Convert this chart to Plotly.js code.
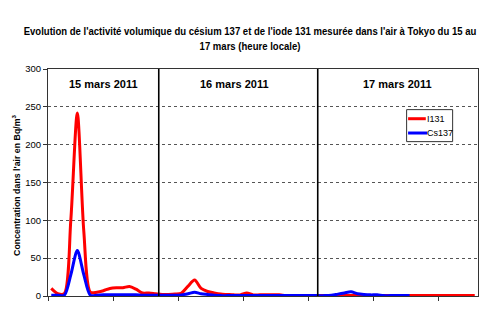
<!DOCTYPE html>
<html><head><meta charset="utf-8">
<script src="https://cdn.plot.ly/plotly-3.0.1.min.js"></script>
<style>html,body{margin:0;padding:0;background:#fff}#chart{width:500px;height:311px}</style>
</head><body><div id="chart"></div>
<script>
// category index (66 sampling slots, 15 -> 17 mars)
const slots = Array.from({length: 66}, (_, i) => i);
const i131 = [10,3,3,100,242,85,5,5,7,10,11,11,12.5,9,4,4,3,2,2,2.5,4,13,21,10,6,4,2.5,2,1.5,1.5,4,1.5,1.5,1.5,1.5,1.5,0.5,0.5,0.5,0.5,0.5,0.5,0.5,0.5,0.5,0.5,0.5,0.5,0.5,0.5,0.5,0.5,0.5,0.5,0.5,0.5,0.5,0.5,0.5,0.5,0.5,0.5,0.5,0.5,0.5,0.5];
const cs137 = [1,1,1,28,60,28,1,1,1.5,1.5,1.5,1.5,1.5,1.5,1,1,1,1,1,1,1.5,3,5,3,2,1,0.5,0.5,0.5,0.5,0.5,0.5,0.5,0.5,0.5,0.5,0.5,0.5,0.5,0.5,0.5,0.5,0.5,1,2.5,4,5.5,3,2,1.5,1.5,0.5,0.5,0.5,0.5,0.5,null,null,null,null,null,null,null,null,null,null];
const seriesNames = ['I131', 'Cs137'];
const seriesColors = ['#ff0000', '#0000ff'];
const dayLabels = ['15 mars 2011', '16 mars 2011', '17 mars 2011'];
const dayLabelPos = [8.0, 28.05, 53.2];
const dayBounds = [16.5, 40.9];
const yTicks = [0, 50, 100, 150, 200, 250, 300];
const yTitle = "Concentration dans l'air en Bq/m<sup>3</sup>";

const traces = [
  {x: slots, y: i131, name: seriesNames[0], mode: 'lines', line: {color: seriesColors[0], width: 3, shape: 'spline', smoothing: 0.8}},
  {x: slots, y: cs137, name: seriesNames[1], mode: 'lines', line: {color: seriesColors[1], width: 3, shape: 'spline', smoothing: 0.8}}
];

const shapes = dayBounds.map(b => ({type: 'line', xref: 'x', yref: 'paper', x0: b, x1: b, y0: 0, y1: 1, line: {color: '#000', width: 1.6}}));
// manual legend box
shapes.push({type: 'rect', xref: 'paper', yref: 'paper', x0: 0.834, x1: 0.941, y0: 0.680, y1: 0.821, line: {color: '#333', width: 1}, fillcolor: '#fff', layer: 'above'});
const legY = [0.781, 0.718];
const legX1 = [0.8786, 0.882];
seriesNames.forEach((n, k) => {
  shapes.push({type: 'line', xref: 'paper', yref: 'paper', x0: 0.8374, x1: legX1[k], y0: legY[k], y1: legY[k], line: {color: seriesColors[k], width: 3}, layer: 'above'});
});
const annotations = dayLabels.map((t, k) => ({xref: 'x', yref: 'paper', x: dayLabelPos[k], y: 0.935, yanchor: 'middle', text: '<b>' + t + '</b>', showarrow: false, font: {family: 'Liberation Sans, Arial', size: 11, color: '#000'}}));
seriesNames.forEach((n, k) => {
  annotations.push({xref: 'paper', yref: 'paper', x: 0.880, y: legY[k], xanchor: 'left', yanchor: 'middle', text: n, showarrow: false, borderpad: 0,
    font: {family: 'Liberation Sans, Arial', size: 9, color: '#000'}});
});
// y axis title, drawn as a rotated annotation so it can be centred like the original
annotations.push({xref: 'paper', yref: 'paper', x: -0.074, y: 0.49, xanchor: 'center', yanchor: 'middle', textangle: -90,
  text: '<b>' + yTitle + '</b>', showarrow: false, borderpad: 0, font: {family: 'Liberation Sans, Arial', size: 8.8, color: '#000'}});

const layout = {
  width: 500, height: 311,
  margin: {l: 47.7, r: 21.7, t: 69.3, b: 14.7},
  paper_bgcolor: '#fff', plot_bgcolor: '#fff',
  title: {text: "<b>Evolution de l'activité volumique du césium 137 et de l'iode 131 mesurée dans l'air à Tokyo du 15 au<br>17 mars (heure locale)</b>",
    font: {family: 'Liberation Sans, Arial', size: 11.5, color: '#000'},
    x: 0.5, xanchor: 'center', y: 0.888, yanchor: 'top'},
  showlegend: false,
  xaxis: {range: [-0.5, 65.5], showgrid: false, zeroline: false, showline: true, mirror: true, linecolor: '#333', linewidth: 1,
    ticks: 'outside', ticklen: 4, tickcolor: '#333', tick0: -0.5, dtick: 10, showticklabels: false},
  yaxis: {range: [0, 300], tickvals: yTicks, showgrid: true, gridcolor: '#555', griddash: 'dot', gridwidth: 1,
    zeroline: false, showline: true, mirror: true, linecolor: '#333', linewidth: 1, ticks: 'outside', ticklen: 4, tickcolor: '#333',
    tickfont: {family: 'Liberation Sans, Arial', size: 9.5, color: '#000'}},
  shapes: shapes,
  annotations: annotations
};
Plotly.newPlot('chart', traces, layout, {displayModeBar: false, staticPlot: true}).then(gd => {
  // condense the title horizontally to mimic the narrow original font
  const t = gd.querySelector('.gtitle');
  if (t) {
    const bb = t.getBBox();
    const s = Math.min(1, 453 / bb.width);
    const cx = bb.x + bb.width / 2;
    t.setAttribute('transform', `translate(${cx},0) scale(${s},1) translate(${-cx},0)`);
  }
});
</script></body></html>
